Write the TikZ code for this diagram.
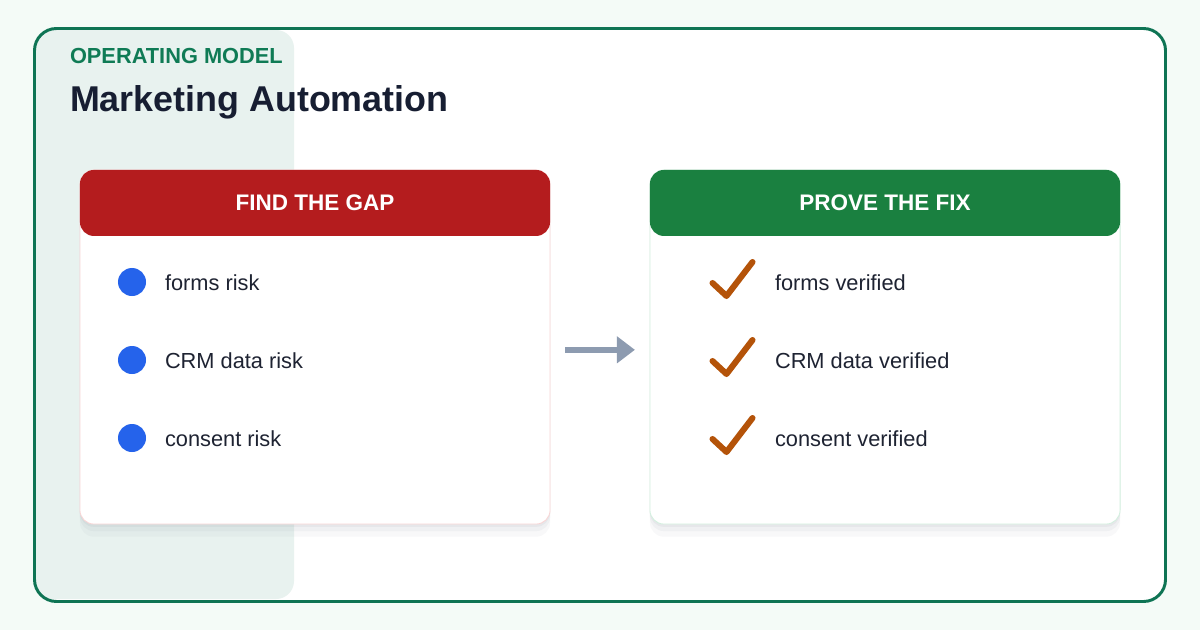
\documentclass[tikz,border=0pt]{standalone}
\usepackage{fontspec}
\setmainfont{Liberation Sans}
\usetikzlibrary{positioning,arrows.meta}

\definecolor{omBack}{HTML}{F4FBF7}
\definecolor{omFrame}{HTML}{0E7454}
\definecolor{omPanel}{HTML}{E8F2EF}
\definecolor{omKicker}{HTML}{0F7B55}
\definecolor{omTitle}{HTML}{171E32}
\definecolor{omText}{HTML}{1E2332}
\definecolor{omRed}{HTML}{B41C1E}
\definecolor{omRedLine}{HTML}{F8D5D5}
\definecolor{omGreen}{HTML}{1A8040}
\definecolor{omGreenLine}{HTML}{D3F0DF}
\definecolor{omBlue}{HTML}{2563EB}
\definecolor{omTick}{HTML}{B45309}
\definecolor{omArrow}{HTML}{8D9BB0}
\definecolor{omShade}{HTML}{5A6478}

\newcommand{\cardWidth}{11.75cm}
\newcommand{\cardHeight}{8.85cm}
\newcommand{\headHeight}{1.65cm}
\tikzset{
  om base/.style={inner sep=0pt, outer sep=0pt},
  om kicker/.style={anchor=base west, text=omKicker,
    font=\bfseries\fontsize{15.5pt}{18pt}\selectfont},
  om title/.style={anchor=base west, text=omTitle,
    font=\bfseries\fontsize{25.5pt}{30pt}\selectfont},
  om card/.style={draw, rectangle, rounded corners=0.35cm, fill=white,
    minimum width=\cardWidth, minimum height=\cardHeight, line width=0.6pt,
    preaction={draw=none, fill=omShade, fill opacity=0.04,
      transform canvas={yshift=-9pt}},
    preaction={draw=none, fill=omShade, fill opacity=0.05,
      transform canvas={yshift=-5pt}},
    preaction={draw=none, fill=omShade, fill opacity=0.06,
      transform canvas={yshift=-2pt}}},
  om head/.style={rectangle, rounded corners=0.35cm, anchor=north,
    minimum width=\cardWidth, minimum height=\headHeight, text=white,
    font=\bfseries\fontsize{16pt}{19pt}\selectfont},
  om dot/.style={circle, fill=omBlue, minimum size=0.7cm},
  om item/.style={anchor=base west, text=omText,
    font=\fontsize{15.5pt}{18pt}\selectfont},
  om tick/.style={draw=omTick, line width=4.3pt, line cap=round, line join=round},
  om arrow/.style={draw=omArrow, line width=4.3pt,
    -{Triangle[length=12.8pt, width=18.5pt]},
    shorten <=10.7pt, shorten >=10.7pt},
}

\begin{document}
\begin{tikzpicture}[
    x=0.025cm, y=-0.025cm,
    om base,
    card/.style={om card},
    head/.style={om head},
    arrow/.style={om arrow}
]
% canvas and frame
\fill[omBack] (0,0) rectangle (1200,630);
\useasboundingbox (0,0) rectangle (1200,630);
\fill[white, rounded corners=0.55cm] (34.5,28.5) rectangle (1165.5,601.5);
\fill[omPanel, rounded corners=0.45cm] (35,30) rectangle (294,599);
\draw[omFrame, line width=2.1pt, rounded corners=0.55cm]
  (34.5,28.5) rectangle (1165.5,601.5);

\node (kicker) [om kicker] at (70,63.5) {OPERATING MODEL};
\node (title)  [om title]  at (70,112)  {Marketing Automation};

% cards
\node (gapcard) [card, draw=omRedLine]   at (315,347) {};
\node (fixcard) [card, draw=omGreenLine] at (885,347) {};
\node (gaphead) [head, fill=omRed]   at (gapcard.north) {FIND THE GAP};
\node (fixhead) [head, fill=omGreen] at (fixcard.north) {PROVE THE FIX};

% rows
\foreach \y/\nm/\txt in {282/forms/forms, 360/crm/CRM data, 438/consent/consent} {
  \node (dot\nm)  [om dot] at (132,\y) {};
  \node (risk\nm) [om item] at (165,\y+8.7) {\txt\ risk};
  \draw[om tick] (712.5,\y+1) -- (726.5,\y+14) -- (752.5,\y-20);
  \node (ok\nm)   [om item] at (775,\y+8.7) {\txt\ verified};
}

\draw [arrow] ([yshift=-2pt]gapcard.east) -- ([yshift=-2pt]fixcard.west);
\end{tikzpicture}
\end{document}
